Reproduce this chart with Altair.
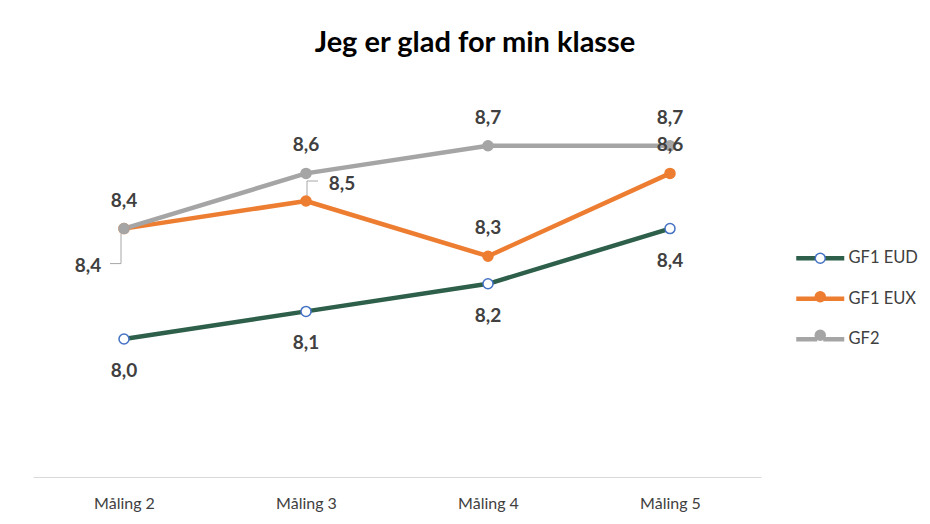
import altair as alt
import pandas as pd

categories = ["Måling 2", "Måling 3", "Måling 4", "Måling 5"]
series_names = ["GF1 EUD", "GF1 EUX", "GF2"]
gf1_eud = [8.0, 8.1, 8.2, 8.4]
gf1_eux = [8.4, 8.5, 8.3, 8.6]
gf2 = [8.4, 8.6, 8.7, 8.7]

line_colors = ["#2D5F4B", "#ED7D31", "#A5A5A5"]
marker_fill = ["#FFFFFF", "#ED7D31", "#A5A5A5"]
marker_stroke = ["#4472C4", "#ED7D31", "#A5A5A5"]

rows = []
for name, vals in zip(series_names, [gf1_eud, gf1_eux, gf2]):
    for i, (c, v) in enumerate(zip(categories, vals)):
        rows.append({"serie": name, "serie_m": name, "maaling": c, "idx": i,
                     "verdi": v, "label": f"{v:.1f}".replace(".", ",")})
df = pd.DataFrame(rows)

FONT = "Lato"
LABEL_COLOR = "#404040"

x_enc = alt.X("maaling:N", sort=categories, scale=alt.Scale(type="point", padding=0.5),
              axis=alt.Axis(title=None, labelAngle=0, ticks=False, grid=False,
                            domainColor="#D9D9D9", domainWidth=1,
                            labelFont=FONT, labelFontSize=16, labelColor=LABEL_COLOR,
                            labelPadding=18))
y_enc = alt.Y("verdi:Q", scale=alt.Scale(domain=[7.5, 9.0], nice=False, zero=False), axis=None)

base = alt.Chart(df)

LEG_X = 779
LEG_Y = 187

lines = base.mark_line(strokeWidth=4.5, strokeCap="round", strokeJoin="round").encode(
    x=x_enc, y=y_enc,
    color=alt.Color("serie:N", sort=series_names,
                    scale=alt.Scale(domain=series_names, range=line_colors),
                    legend=alt.Legend(orient="none", legendX=LEG_X, legendY=LEG_Y, title=None,
                                      symbolType="M-4.8,0H-0.6M0.6,0H4.8", symbolSize=100,
                                      symbolStrokeWidth=4.5, labelOffset=20,
                                      labelFont=FONT, labelFontSize=16.5, labelColor=LABEL_COLOR,
                                      rowPadding=21.5, padding=0)),
    order=alt.Order("idx:Q"),
)

pt_legend = alt.Legend(orient="none", legendX=LEG_X, legendY=LEG_Y, title=None,
                       symbolType="circle", symbolSize=100, symbolStrokeWidth=1.5,
                       symbolOpacity=1, labelOffset=20, labelFont=FONT, labelFontSize=16.5,
                       labelExpr="''", rowPadding=21.5, padding=0)

points = base.mark_point(shape="circle", filled=True, size=100, strokeWidth=1.5, opacity=1).encode(
    x=x_enc, y=y_enc,
    fill=alt.Fill("serie_m:N", sort=series_names,
                  scale=alt.Scale(domain=series_names, range=marker_fill), legend=pt_legend),
    stroke=alt.Stroke("serie_m:N", sort=series_names,
                      scale=alt.Scale(domain=series_names, range=marker_stroke), legend=pt_legend),
)


def labels(expr, dx, dy):
    return base.transform_filter(expr).mark_text(
        font=FONT, fontSize=19, fontWeight="bold", color=LABEL_COLOR,
        baseline="middle", align="center", dx=dx, dy=dy,
    ).encode(x=x_enc, y=y_enc, text="label:N")


lab_eud = labels("datum.serie === 'GF1 EUD'", 0, 32)
lab_gf2 = labels("datum.serie === 'GF2'", 0, -28)
lab_eux_top = labels("datum.serie === 'GF1 EUX' && datum.idx >= 2", 0, -28)
lab_eux_0 = labels("datum.serie === 'GF1 EUX' && datum.idx === 0", -36, 37)
lab_eux_1 = labels("datum.serie === 'GF1 EUX' && datum.idx === 1", 36, -17)

LEADER = "#A6A6A6"
eux0 = base.transform_filter("datum.serie === 'GF1 EUX' && datum.idx === 0")
eux1 = base.transform_filter("datum.serie === 'GF1 EUX' && datum.idx === 1")

lead0_v = eux0.mark_rule(color=LEADER, strokeWidth=1, xOffset=-3, yOffset=5, y2Offset=35).encode(
    x=x_enc, y=y_enc, y2=alt.Y2("verdi:Q"))
lead0_h = eux0.mark_rule(color=LEADER, strokeWidth=1, xOffset=-14, x2Offset=-3, yOffset=35).encode(
    x=x_enc, x2=alt.X2("maaling"), y=y_enc)
lead1_v = eux1.mark_rule(color=LEADER, strokeWidth=1, xOffset=1, yOffset=-4, y2Offset=-20).encode(
    x=x_enc, y=y_enc, y2=alt.Y2("verdi:Q"))
lead1_h = eux1.mark_rule(color=LEADER, strokeWidth=1, xOffset=1, x2Offset=12, yOffset=-20).encode(
    x=x_enc, x2=alt.X2("maaling"), y=y_enc)

chart = alt.layer(
    lead0_v, lead0_h, lead1_v, lead1_h,
    lines, points,
    lab_eud, lab_gf2, lab_eux_top, lab_eux_0, lab_eux_1,
).resolve_scale(
    color="independent", fill="independent", stroke="independent"
).properties(
    width=728, height=414,
    title=alt.Title("Jeg er glad for min klasse", font=FONT, fontSize=29, fontWeight="bold",
                    color="#000000", anchor="middle", dx=78, offset=5),
    autosize=alt.AutoSizeParams(type="none"),
    padding={"left": 25, "top": 55, "right": 160, "bottom": 39},
).configure(
    background="white", view=alt.ViewConfig(stroke=None, strokeWidth=0)
)

chart.save("out.html", embed_options={"renderer": "svg", "actions": False})
